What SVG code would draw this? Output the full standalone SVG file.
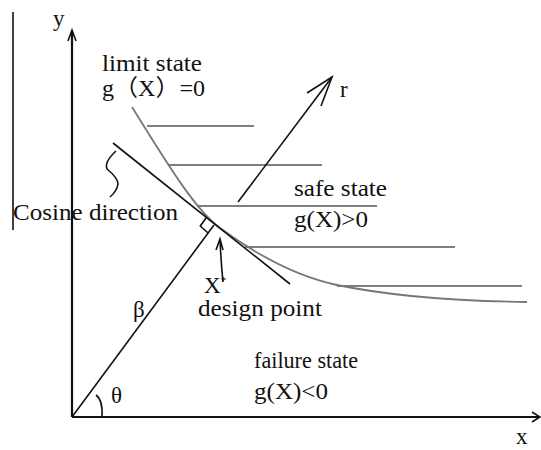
<svg xmlns="http://www.w3.org/2000/svg" width="541" height="450" viewBox="0 0 541 450">
<defs>
<style>
.t{font-family:"Liberation Serif","Times New Roman","Noto Sans CJK SC",serif;font-size:23px;fill:#111}
.ax{stroke:#111;stroke-width:2.2;fill:none}
.ln{stroke:#111;stroke-width:1.6;fill:none}
.hz{stroke:#555;stroke-width:1.6;fill:none}
.cv{stroke:#777;stroke-width:1.8;fill:none}
</style>
</defs>
<rect width="541" height="450" fill="#fff"/>
<g id="frame-line"><line x1="13" y1="12" x2="13" y2="230" class="ln"/></g>
<g id="axes">
<line x1="72" y1="417" x2="72" y2="31" class="ax"/>
<polyline points="68,41 72,30 76,41" class="ln"/>
<line x1="72" y1="417" x2="539" y2="417" class="ax"/>
<polyline points="532,412 540,417 532,422" class="ln"/>
<text x="53" y="26" class="t">y</text>
<text x="516" y="444" class="t">x</text>
</g>
<g id="safe-lines">
<line x1="147" y1="126" x2="254" y2="126" class="hz"/>
<line x1="168" y1="165" x2="322" y2="165" class="hz"/>
<line x1="197" y1="206" x2="377" y2="206" class="hz"/>
<line x1="245" y1="247" x2="455" y2="247" class="hz"/>
<line x1="337" y1="286" x2="522" y2="286" class="hz"/>
</g>
<g id="limit-state-curve">
<path d="M132,107 C165,160 195,210 220,228 C250,250 290,275 337,285 C390,296 450,301 527,302" class="cv"/>
</g>
<g id="connectors">
<line x1="113" y1="143" x2="290" y2="284" class="ln"/>
<line x1="72" y1="417" x2="214" y2="225" class="ln"/>
<polyline points="206.2,217.8 200.3,226 208.1,233" class="ln"/>
<line x1="238" y1="202" x2="332" y2="77" class="ln"/>
<polyline points="307,93 332,77 321,106" class="ln"/>
<path d="M223,282 Q221,262 220,240" class="ln"/>
<polyline points="216,250 220,239 223,250" class="ln"/>
<path d="M116,151 Q104,162 107,169 Q118,178 118,184 Q117,191 110,197" class="ln"/>
<path d="M96,395 Q103,400 102,417" class="ln"/>
</g>
<g id="labels">
<text x="102" y="71" class="t" textLength="100" lengthAdjust="spacingAndGlyphs">limit state</text>
<text x="102" y="96" class="t" font-size="21" textLength="103" lengthAdjust="spacingAndGlyphs">g（X）=0</text>
<text x="340" y="97" class="t">r</text>
<text x="13" y="220" class="t" textLength="165" lengthAdjust="spacingAndGlyphs">Cosine direction</text>
<text x="294" y="196" class="t" textLength="93" lengthAdjust="spacingAndGlyphs">safe state</text>
<text x="294" y="227" class="t" textLength="74" lengthAdjust="spacingAndGlyphs">g(X)&gt;0</text>
<text x="204" y="293" class="t" font-size="21">X<tspan font-size="11" dy="-9">*</tspan></text>
<text x="198" y="316" class="t" textLength="124" lengthAdjust="spacingAndGlyphs">design point</text>
<text x="133" y="317" class="t">β</text>
<text x="254" y="368" class="t" textLength="104" lengthAdjust="spacingAndGlyphs">failure state</text>
<text x="254" y="399" class="t" textLength="74" lengthAdjust="spacingAndGlyphs">g(X)&lt;0</text>
<text x="111" y="403" class="t" font-size="19">θ</text>
</g>
</svg>
